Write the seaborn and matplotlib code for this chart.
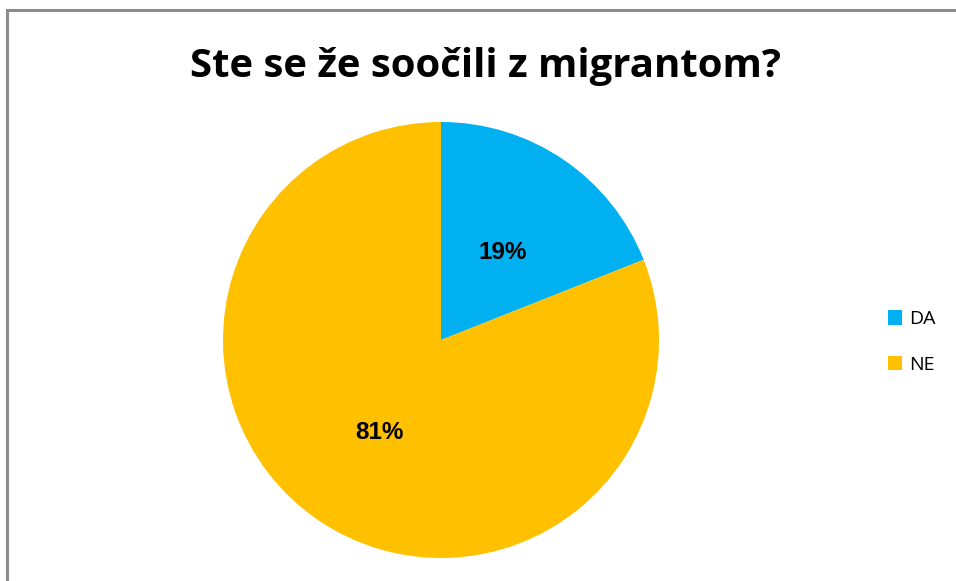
import matplotlib.pyplot as plt
import seaborn as sns
from matplotlib.patches import Rectangle

# Podatki
kategorije = ['DA', 'NE']
vrednosti = [19, 81]
barve = ['#00B0F0', '#FFC000']
naslov = 'Ste se že soočili z migrantom?'

sns.set_theme(style="white")
plt.rcParams['font.family'] = ['Open Sans', 'DejaVu Sans']
plt.rcParams['text.color'] = 'black'

fig = plt.figure(figsize=(9.56, 5.81), dpi=100)
fig.patch.set_facecolor('white')

# okvir grafikona (viden le levi in zgornji rob)
fig.patches.append(Rectangle((7 / 956, -0.05), 1.2, 1 - 10 / 581 + 0.05,
                             transform=fig.transFigure, fill=False,
                             edgecolor='#8c8c8c', linewidth=2.2, zorder=0))

ax = fig.add_axes([(441 - 218) / 956, (581 - 340 - 218) / 581, 436 / 956, 436 / 581])
wedges, _, autotexts = ax.pie(vrednosti, colors=barve, startangle=90, counterclock=False,
                              autopct='%1.0f%%', pctdistance=0.5,
                              wedgeprops={'linewidth': 0},
                              textprops={'fontsize': 17.5, 'fontweight': 'bold', 'color': 'black',
                                         'family': ['Liberation Sans', 'DejaVu Sans']})
for t in autotexts:
    t.set_va('center_baseline')
ax.set_xlim(-1, 1)
ax.set_ylim(-1, 1)
ax.set_aspect('equal')

fig.text(486 / 956, 1 - 77 / 581, naslov, ha='center', va='baseline',
         fontsize=28.9, fontweight='bold', color='black')

leg = fig.legend(wedges, kategorije, loc='center left',
                 bbox_to_anchor=(870 / 956, 1 - 342 / 581), frameon=False,
                 fontsize=14, handlelength=0.75, handleheight=0.75,
                 handletextpad=0.35, labelspacing=1.4)

plt.savefig('out.png', dpi=100)
